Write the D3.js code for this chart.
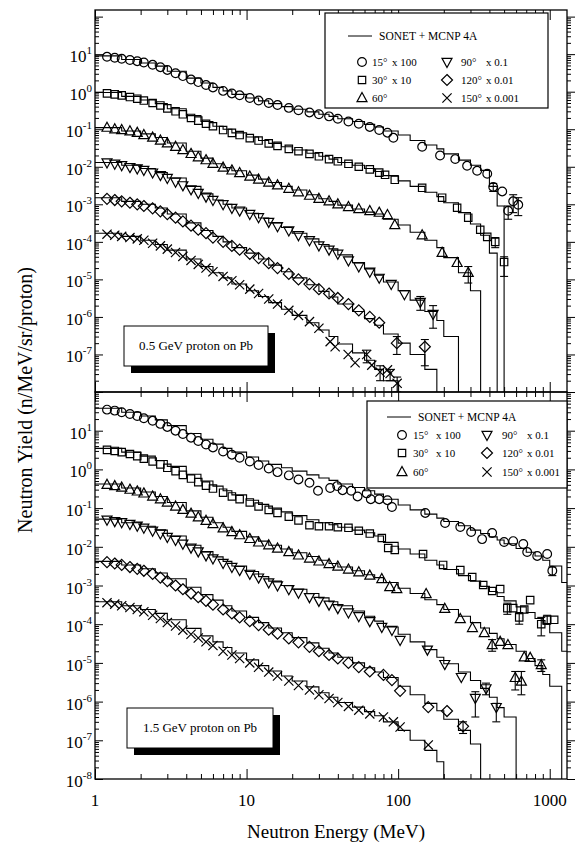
<!DOCTYPE html>
<meta charset="utf-8">
<style>
  body { margin: 0; background: #fff; }
  text { font-family: "Liberation Serif", "Times New Roman", serif; fill: #000; }
  .frame { fill: none; stroke: #000; stroke-width: 1.3px; }
  .calc { fill: none; stroke: #000; stroke-width: 1.1px; }
  .mark { fill: none; stroke: #000; stroke-width: 1.2px; }
  .err { stroke: #000; stroke-width: 1.1px; }
  .axis path { display: none; }
  .axis line { stroke: #000; }
</style>
<body>
<svg width="575" height="848"></svg>
<script src="https://d3js.org/d3.v7.min.js"></script>
<script>
// ---- data: 0.5 GeV proton on Pb (values already multiplied as in legend)
const p05_15 = [[1.2,8.5],[1.35,8],[1.5,7.5],[1.7,7],[1.9,6.5],[2.1,6],[2.4,5.2],[2.7,4.5],[3,3.8],[3.4,3.1],[3.8,2.6],[4.3,2.1],[4.8,1.8],[5.4,1.5],[6,1.3],[7,1.05],[8,0.9],[9,0.8],[10.5,0.68],[12,0.58],[14,0.5],[16,0.44],[19,0.37],[22,0.32],[26,0.28],[30,0.25],[35,0.22],[40,0.19],[47,0.16],[55,0.14],[65,0.115],[75,0.095],[85,0.081],[93,0.059],[144,0.034],[189,0.02],[238,0.016],[285,0.0106],[332,0.0078],[387,0.0065],[424,0.0029],[486,0.0022],[532,0.00067],[574,0.0012],[620,0.00097]];
const p05_30 = [[1.2,0.9],[1.35,0.85],[1.5,0.8],[1.7,0.72],[1.9,0.65],[2.1,0.58],[2.4,0.5],[2.7,0.43],[3,0.36],[3.4,0.3],[3.8,0.25],[4.3,0.2],[4.8,0.17],[5.4,0.14],[6,0.12],[7,0.095],[8,0.08],[9,0.07],[10.5,0.058],[12,0.05],[14,0.042],[16,0.036],[19,0.03],[22,0.026],[26,0.022],[30,0.019],[35,0.016],[40,0.014],[47,0.012],[55,0.01],[65,0.0085],[75,0.007],[82,0.0061],[95,0.0045],[144,0.00275],[195,0.0015],[245,0.00081],[290,0.00044],[348,0.00021],[387,0.000136],[437,0.0001],[500,0.000029]];
const p05_60 = [[1.2,0.11],[1.35,0.1],[1.5,0.095],[1.7,0.088],[1.9,0.08],[2.1,0.07],[2.4,0.06],[2.7,0.05],[3,0.042],[3.4,0.034],[3.8,0.028],[4.3,0.022],[4.8,0.018],[5.4,0.015],[6,0.012],[7,0.0095],[8,0.008],[9,0.0068],[10.5,0.0055],[12,0.0046],[14,0.0038],[16,0.0032],[19,0.0026],[22,0.0021],[26,0.0017],[30,0.0014],[35,0.0012],[40,0.001],[47,0.00085],[55,0.00075],[65,0.00066],[75,0.0006],[85,0.00052],[95,0.00028],[144,0.00015],[195,0.000051],[245,0.0000275],[290,0.000015]];
const p05_90 = [[1.2,0.013],[1.35,0.012],[1.5,0.011],[1.7,0.0098],[1.9,0.009],[2.1,0.0082],[2.4,0.007],[2.7,0.006],[3,0.005],[3.4,0.004],[3.8,0.0032],[4.3,0.0025],[4.8,0.002],[5.4,0.0016],[6,0.0013],[7,0.001],[8,0.0008],[9,0.00068],[10.5,0.00055],[12,0.00045],[14,0.00034],[16,0.00026],[19,0.0002],[22,0.00015],[26,0.00011],[30,0.00008],[35,0.000062],[40,0.000048],[47,0.000032],[55,0.000022],[65,0.000016],[75,0.000011],[90,0.0000075],[110,0.000004],[140,0.0000025],[170,0.0000012]];
const p05_120 = [[1.2,0.0014],[1.35,0.0013],[1.5,0.0012],[1.7,0.0011],[1.9,0.001],[2.1,0.0009],[2.4,0.00078],[2.7,0.00065],[3,0.00055],[3.4,0.00044],[3.8,0.00035],[4.3,0.00027],[4.8,0.00021],[5.4,0.00017],[6,0.00013],[7,0.0001],[8,0.000078],[9,0.000062],[10.5,0.000048],[12,0.000037],[14,0.000027],[16,0.00002],[19,0.000014],[22,0.00001],[26,0.0000075],[30,0.0000055],[35,0.0000042],[40,0.0000032],[47,0.0000022],[55,0.0000015],[65,0.000001],[75,0.0000007],[98,0.0000002],[150,0.00000016]];
const p05_150 = [[1.2,0.00016],[1.35,0.00015],[1.5,0.00014],[1.7,0.00013],[1.9,0.00012],[2.1,0.00011],[2.4,0.000092],[2.7,0.000078],[3,0.000064],[3.4,0.000052],[3.8,0.000041],[4.3,0.000032],[4.8,0.000025],[5.4,0.00002],[6,0.000016],[7,0.000012],[8,0.0000092],[9,0.0000072],[10.5,0.0000055],[12,0.0000042],[14,0.000003],[16,0.0000022],[19,0.0000015],[22,0.0000011],[26,0.00000075],[30,0.0000005],[35.6,0.00000022],[38.4,0.00000016],[46.8,0.0000001],[52,0.00000006],[62,0.0000001],[67,0.000000052],[76,0.000000034],[85,0.000000039],[88.5,0.000000031],[98.5,0.000000017]];

// error bars [E, low, high]
const e05_15 = [[424,0.0022,0.0036],[532,0.0004,0.0009],[574,0.0006,0.0018],[620,0.0005,0.0015]];
const e05_30 = [[437,0.00007,0.00013],[500,0.000012,0.00004]];
const e05_60 = [[290,0.000008,0.000022]];
const e05_90 = [[140,0.0000015,0.0000035],[170,0.0000005,0.000002]];
const e05_120 = [[98,0.0000001,0.0000003],[150,0.00000005,0.00000025]];
const e05_150 = [[62,0.00000006,0.00000013],[76,0.00000002,0.00000005],[88.5,0.00000002,0.00000004],[98.5,0.00000001,0.000000025]];

// SONET + MCNP 4A histograms: bin edges and value per bin
const edges05 = [1,1.5,2,2.5,3,4,5,6,7,8,10,12,14,17,20,25,30,35,40,50,60,70,80,100,120,150,180,200,250,300,350,400,450,500];
const c05_15 = [9,7.2,5.8,4.8,3.5,2.3,1.7,1.3,1.05,0.85,0.68,0.57,0.48,0.4,0.34,0.29,0.25,0.22,0.19,0.16,0.135,0.115,0.09,0.07,0.05,0.038,0.03,0.022,0.015,0.011,0.008,0.003,0.0009];
const c05_30 = [0.95,0.75,0.6,0.48,0.35,0.23,0.16,0.12,0.1,0.08,0.062,0.05,0.042,0.034,0.028,0.023,0.019,0.016,0.013,0.011,0.009,0.0075,0.0058,0.0042,0.003,0.0021,0.0016,0.0011,0.0006,0.0003,0.00015,0.00005];
const c05_60 = [0.11,0.09,0.075,0.06,0.043,0.026,0.017,0.012,0.0095,0.0078,0.006,0.0047,0.0038,0.003,0.0024,0.0018,0.0014,0.0012,0.00095,0.00075,0.00062,0.00055,0.0004,0.00028,0.00018,0.00011,0.00007,0.000038,0.000015,0.000005];
const c05_90 = [0.013,0.011,0.009,0.007,0.005,0.003,0.0019,0.0013,0.001,0.0008,0.00058,0.00043,0.00032,0.00024,0.00017,0.00012,0.000085,0.000065,0.000045,0.000028,0.000019,0.000013,0.0000085,0.000005,0.0000028,0.0000014,0.0000008,0.0000003];
const c05_120 = [0.0015,0.0012,0.001,0.0008,0.00055,0.00032,0.0002,0.00014,0.0001,0.00007,0.00005,0.000035,0.000024,0.000016,0.000011,0.0000072,0.0000048,0.0000034,0.0000022,0.0000014,0.0000009,0.0000006,0.00000035,0.0000002,0.0000001,0.00000004];
const c05_150 = [0.00017,0.00014,0.00011,0.000085,0.00006,0.000035,0.000022,0.000015,0.000011,0.0000075,0.000005,0.0000035,0.0000024,0.0000016,0.0000011,0.0000007,0.00000045,0.0000003,0.00000019,0.00000011,0.00000007,0.00000004,0.00000002];

// ---- data: 1.5 GeV proton on Pb
const p15_15 = [[1.2,35],[1.35,33],[1.5,30],[1.7,27],[1.9,24],[2.1,21],[2.4,18],[2.7,15],[3,12.5],[3.4,10],[3.8,8.2],[4.3,6.6],[4.8,5.4],[5.4,4.4],[6,3.7],[7,2.9],[8,2.4],[9,2],[10.5,1.6],[12,1.3],[14,1.05],[16,0.85],[19,0.7],[22,0.55],[26,0.45],[29.6,0.28],[35.6,0.33],[39.6,0.37],[43,0.29],[49,0.28],[54,0.2],[62,0.24],[66,0.17],[75,0.17],[85,0.16],[91,0.107],[151,0.075],[204,0.041],[257,0.0325],[303,0.024],[358,0.0158],[417,0.0227],[500,0.0133],[574,0.014],[669,0.0118],[710,0.0073],[827,0.0058],[962,0.0065],[1040,0.0024]];
const p15_30 = [[1.2,3.2],[1.35,3],[1.5,2.8],[1.7,2.5],[1.9,2.2],[2.1,1.9],[2.4,1.6],[2.7,1.35],[3,1.1],[3.4,0.9],[3.8,0.72],[4.3,0.58],[4.8,0.47],[5.4,0.38],[6,0.32],[7,0.25],[8,0.2],[9,0.17],[10.5,0.14],[12,0.11],[14,0.09],[16,0.075],[19,0.06],[22,0.048],[26,0.036],[30,0.034],[35,0.034],[40,0.032],[47,0.031],[55,0.026],[65,0.022],[78,0.0169],[86,0.0093],[95,0.0083],[146,0.0065],[198,0.0034],[257,0.0025],[308,0.00166],[364,0.00103],[417,0.00072],[471,0.00081],[525,0.00026],[574,0.00026],[629,0.00015],[679,0.00024],[743,0.00042],[879,0.0001],[962,0.00013],[1070,0.00013]];
const p15_60 = [[1.2,0.4],[1.35,0.37],[1.5,0.34],[1.7,0.3],[1.9,0.27],[2.1,0.24],[2.4,0.2],[2.7,0.17],[3,0.14],[3.4,0.11],[3.8,0.09],[4.3,0.072],[4.8,0.058],[5.4,0.047],[6,0.039],[7,0.03],[8,0.024],[9,0.02],[10.5,0.016],[12,0.013],[14,0.011],[16,0.009],[19,0.0073],[22,0.006],[26,0.005],[30,0.0042],[35,0.0036],[40,0.0031],[47,0.0026],[55,0.0022],[65,0.0018],[78,0.00147],[88,0.00091],[98,0.00081],[153,0.0006],[203,0.00025],[257,0.000136],[309,0.00008],[370,0.000059],[417,0.000029],[471,0.000035],[530,0.000029],[592,0.0000041],[650,0.0000033],[679,0.000014],[743,0.0000135],[879,0.0000088]];
const p15_90 = [[1.2,0.05],[1.35,0.046],[1.5,0.043],[1.7,0.039],[1.9,0.035],[2.1,0.031],[2.4,0.026],[2.7,0.022],[3,0.018],[3.4,0.015],[3.8,0.012],[4.3,0.0095],[4.8,0.0076],[5.4,0.006],[6,0.005],[7,0.0038],[8,0.003],[9,0.0025],[10.5,0.002],[12,0.0016],[14,0.0012],[16,0.001],[19,0.0008],[22,0.00065],[26,0.0005],[30,0.0004],[35,0.00032],[40,0.00026],[47,0.0002],[55,0.00016],[65,0.00012],[78,0.000085],[91,0.000071],[103,0.000039],[156,0.000022],[203,0.0000093],[261,0.0000043],[323,0.00000124],[380,0.0000022],[444,0.00000072]];
const p15_120 = [[1.2,0.004],[1.35,0.0037],[1.5,0.0034],[1.7,0.003],[1.9,0.0027],[2.1,0.0024],[2.4,0.002],[2.7,0.0016],[3,0.0013],[3.4,0.001],[3.8,0.0008],[4.3,0.00062],[4.8,0.0005],[5.4,0.0004],[6,0.00032],[7,0.00024],[8,0.00019],[9,0.00015],[10.5,0.00012],[12,0.000095],[14,0.000072],[16,0.000057],[19,0.000043],[22,0.000034],[26,0.000026],[30,0.00002],[35,0.000016],[40,0.000013],[47,0.00001],[55,0.0000078],[65,0.000006],[80,0.0000049],[91,0.0000036],[103,0.0000019],[158,0.00000072],[210,0.00000057],[268,0.00000023]];
const p15_150 = [[1.2,0.00036],[1.35,0.00033],[1.5,0.0003],[1.7,0.00027],[1.9,0.00024],[2.1,0.00021],[2.4,0.00017],[2.7,0.00014],[3,0.00011],[3.4,0.00009],[3.8,0.00007],[4.3,0.000055],[4.8,0.000044],[5.4,0.000035],[6,0.000028],[7,0.00002],[8,0.000016],[9,0.000013],[10.5,0.00001],[12,0.0000077],[14,0.0000058],[16,0.0000046],[19,0.0000034],[22,0.0000026],[26,0.000002],[30,0.0000015],[35,0.0000012],[40,0.00000095],[47,0.00000075],[55,0.0000006],[65,0.00000048],[80,0.0000004],[93,0.0000003],[103,0.00000022],[158,0.000000076]];

const e15_15 = [[1040,0.0018,0.003]];
const e15_30 = [[525,0.00018,0.00035],[629,0.0001,0.0002],[879,0.00005,0.00015],[962,0.0001,0.00017]];
const e15_60 = [[417,0.00002,0.00004],[592,0.000002,0.000006],[650,0.0000015,0.000006],[879,0.000006,0.000012]];
const e15_90 = [[323,0.0000004,0.0000018],[380,0.0000015,0.000003],[444,0.0000003,0.0000009]];
const e15_120 = [[268,0.00000015,0.0000003]];
const e15_150 = [];

const edges15 = [1,1.5,2,2.5,3,4,5,6,7,8,10,12,14,17,20,25,30,35,40,50,60,70,80,100,120,150,180,200,250,300,350,400,450,500,600,700,800,900,1000,1200,1400];
const c15_15 = [38,30,24,19,13.5,8.5,6,4.5,3.5,2.8,2.1,1.65,1.35,1.1,0.9,0.72,0.6,0.52,0.42,0.34,0.28,0.23,0.17,0.12,0.09,0.07,0.055,0.045,0.035,0.027,0.022,0.018,0.015,0.012,0.009,0.0072,0.0058,0.0045,0.0032,0.0012];
const c15_30 = [3.5,2.8,2.2,1.7,1.2,0.75,0.5,0.37,0.28,0.22,0.16,0.125,0.1,0.08,0.064,0.05,0.042,0.037,0.032,0.027,0.023,0.019,0.013,0.0088,0.0065,0.0045,0.0034,0.0026,0.0018,0.0013,0.00095,0.0007,0.00052,0.0004,0.00028,0.0002,0.00014,0.0001,0.00006,0.00002];
const c15_60 = [0.42,0.33,0.26,0.2,0.14,0.085,0.058,0.042,0.032,0.025,0.018,0.014,0.011,0.0088,0.007,0.0056,0.0045,0.0037,0.003,0.0024,0.0019,0.0016,0.0012,0.00085,0.00062,0.00043,0.00032,0.00024,0.00016,0.00011,0.00008,0.000058,0.000042,0.00003,0.00002,0.000013,0.0000085,0.000005,0.0000025];
const c15_90 = [0.052,0.042,0.034,0.027,0.019,0.011,0.0075,0.0055,0.0042,0.0032,0.0023,0.0017,0.0013,0.001,0.0008,0.00062,0.00048,0.00038,0.0003,0.00022,0.00016,0.00012,0.000085,0.000055,0.000035,0.000022,0.000014,0.0000095,0.0000058,0.0000035,0.0000022,0.0000013,0.0000007,0.0000004];
const c15_120 = [0.0042,0.0034,0.0027,0.0021,0.0015,0.0009,0.00058,0.00042,0.0003,0.00022,0.00015,0.00011,0.00008,0.00006,0.000045,0.000033,0.000024,0.000018,0.000014,0.00001,0.0000075,0.0000058,0.0000042,0.0000025,0.0000015,0.0000009,0.00000058,0.00000035,0.00000018,0.00000008];
const c15_150 = [0.00038,0.0003,0.00024,0.00019,0.00013,0.000078,0.00005,0.000035,0.000025,0.000018,0.000012,0.0000085,0.0000062,0.0000046,0.0000034,0.0000024,0.0000017,0.0000013,0.00000095,0.00000072,0.00000055,0.00000043,0.0000003,0.00000018,0.0000001,0.000000055,0.000000028];

const xMajor = [1, 10, 100, 1000];
const legendItems = [
  { sym: 'circle', angle: '15°', mult: 'x 100' },
  { sym: 'square', angle: '30°', mult: 'x 10' },
  { sym: 'up', angle: '60°', mult: '' },
  { sym: 'down', angle: '90°', mult: 'x 0.1' },
  { sym: 'diamond', angle: '120°', mult: 'x 0.01' },
  { sym: 'cross', angle: '150°', mult: 'x 0.001' },
];

// ---- layout
const svg = d3.select('svg');
const xLeft = 95, xRight = 567;
const x = d3.scaleLog().domain([1, 1300]).range([xLeft, xRight]);

const panels = [
  {
    top: 10, bottom: 392, ymax: 150, exps: [1,0,-1,-2,-3,-4,-5,-6,-7],
    series: [
      { sym: 'circle', pts: p05_15, err: e05_15, calc: c05_15 },
      { sym: 'square', pts: p05_30, err: e05_30, calc: c05_30 },
      { sym: 'up', pts: p05_60, err: e05_60, calc: c05_60 },
      { sym: 'down', pts: p05_90, err: e05_90, calc: c05_90 },
      { sym: 'diamond', pts: p05_120, err: e05_120, calc: c05_120 },
      { sym: 'cross', pts: p05_150, err: e05_150, calc: c05_150 },
    ],
    edges: edges05,
    legend: { x0: 325, y0: 13, x1: 548, y1: 108, lineY: 36, lineX: 348, rows: [62, 80, 98], c1: 362, c2: 447, t1: 372, t2: 461, m1: 392, m2: 486 },
    label: { text: '0.5 GeV proton on Pb', x0: 124, y0: 326, x1: 268, y1: 366 }
  },
  {
    top: 392, bottom: 779, ymax: 100, exps: [1,0,-1,-2,-3,-4,-5,-6,-7,-8],
    series: [
      { sym: 'circle', pts: p15_15, err: e15_15, calc: c15_15 },
      { sym: 'square', pts: p15_30, err: e15_30, calc: c15_30 },
      { sym: 'up', pts: p15_60, err: e15_60, calc: c15_60 },
      { sym: 'down', pts: p15_90, err: e15_90, calc: c15_90 },
      { sym: 'diamond', pts: p15_120, err: e15_120, calc: c15_120 },
      { sym: 'cross', pts: p15_150, err: e15_150, calc: c15_150 },
    ],
    edges: edges15,
    legend: { x0: 367, y0: 401, x1: 567, y1: 488, lineY: 417, lineX: 387, rows: [435, 453, 472], c1: 402, c2: 487, t1: 413, t2: 502, m1: 436, m2: 527 },
    label: { text: '1.5 GeV proton on Pb', x0: 127, y0: 708, x1: 273, y1: 748 }
  }
];

function symPath(kind) {
  switch (kind) {
    case 'circle': return d3.symbol(d3.symbolCircle, 60)();
    case 'square': return 'M-3.7,-3.7H3.7V3.7H-3.7Z';
    case 'up': return 'M0,-5.5L5,3.6H-5Z';
    case 'down': return 'M0,5.5L5,-3.6H-5Z';
    case 'diamond': return 'M0,-5.5L5.5,0L0,5.5L-5.5,0Z';
    case 'cross': return 'M-4.6,-4.6L4.6,4.6M-4.6,4.6L4.6,-4.6';
  }
}

function minorTicks(lo, hi) {
  const out = [];
  for (let e = Math.floor(Math.log10(lo)); e <= Math.ceil(Math.log10(hi)); e++) {
    for (let m = 2; m <= 9; m++) {
      const v = m * Math.pow(10, e);
      if (v > lo && v < hi) out.push(v);
    }
  }
  return out;
}

const defs = svg.append('defs');

panels.forEach((p, i) => {
  const y = d3.scaleLog().domain([1e-8, p.ymax]).range([p.bottom, p.top]).clamp(true);
  const g = svg.append('g');

  defs.append('clipPath').attr('id', 'clip' + i)
    .append('rect').attr('x', xLeft).attr('y', p.top)
    .attr('width', xRight - xLeft).attr('height', p.bottom - p.top);

  // ticks
  const yMinor = minorTicks(1e-8, p.ymax);
  const yMajorVals = d3.range(-8, 3).map(e => Math.pow(10, e)).filter(v => v <= p.ymax);
  const xMinor = minorTicks(1, 1300);

  g.append('g').attr('class', 'axis').attr('transform', `translate(${xLeft},0)`)
    .call(d3.axisLeft(y).tickValues(yMinor).tickSize(-4).tickFormat(''));
  g.append('g').attr('class', 'axis').attr('transform', `translate(${xLeft},0)`)
    .call(d3.axisLeft(y).tickValues(yMajorVals).tickSize(-8).tickFormat(''));
  g.append('g').attr('class', 'axis').attr('transform', `translate(${xRight},0)`)
    .call(d3.axisRight(y).tickValues(yMinor).tickSize(4).tickFormat(''));
  g.append('g').attr('class', 'axis').attr('transform', `translate(${xRight},0)`)
    .call(d3.axisRight(y).tickValues(yMajorVals).tickSize(8).tickFormat(''));

  g.append('g').attr('class', 'axis').attr('transform', `translate(0,${p.bottom})`)
    .call(d3.axisBottom(x).tickValues(xMinor).tickSize(-5).tickFormat(''));
  g.append('g').attr('class', 'axis').attr('transform', `translate(0,${p.bottom})`)
    .call(d3.axisBottom(x).tickValues(xMajor).tickSize(-10).tickFormat(''));
  g.append('g').attr('class', 'axis').attr('transform', `translate(0,${p.top})`)
    .call(d3.axisTop(x).tickValues(xMinor).tickSize(-5).tickFormat(''));
  g.append('g').attr('class', 'axis').attr('transform', `translate(0,${p.top})`)
    .call(d3.axisTop(x).tickValues(xMajor).tickSize(-10).tickFormat(''));

  g.append('rect').attr('class', 'frame')
    .attr('x', xLeft).attr('y', p.top)
    .attr('width', xRight - xLeft).attr('height', p.bottom - p.top);

  // y tick labels 10^n
  const lab = g.selectAll('text.ylab').data(p.exps).join('text')
    .attr('class', 'ylab')
    .attr('x', xLeft - 3)
    .attr('y', d => y(Math.pow(10, d)) + 8)
    .attr('text-anchor', 'end')
    .style('font-size', '17px');
  lab.append('tspan').text('10');
  lab.append('tspan').attr('dy', -8).style('font-size', '11px').text(d => String(d));

  const plot = g.append('g').attr('clip-path', `url(#clip${i})`);

  // calculated histograms
  const line = d3.line().x(d => x(d[0])).y(d => y(d[1])).curve(d3.curveStepAfter);
  p.series.forEach(s => {
    const pts = s.calc.map((v, k) => [p.edges[k], v]);
    const end = p.edges[s.calc.length];
    pts.push([end, s.calc[s.calc.length - 1]]);
    pts.push([end, 1e-12]);
    plot.append('path').attr('class', 'calc').attr('d', line(pts));
  });

  // error bars
  p.series.forEach(s => {
    const eg = plot.append('g');
    s.err.forEach(d => {
      const ex = x(d[0]);
      eg.append('line').attr('class', 'err').attr('x1', ex).attr('x2', ex).attr('y1', y(d[1])).attr('y2', y(d[2]));
      eg.append('line').attr('class', 'err').attr('x1', ex - 4).attr('x2', ex + 4).attr('y1', y(d[1])).attr('y2', y(d[1]));
      eg.append('line').attr('class', 'err').attr('x1', ex - 4).attr('x2', ex + 4).attr('y1', y(d[2])).attr('y2', y(d[2]));
    });
  });

  // measured points
  p.series.forEach(s => {
    plot.append('g').selectAll('path').data(s.pts).join('path')
      .attr('class', 'mark')
      .attr('transform', d => `translate(${x(d[0])},${y(d[1])})`)
      .attr('d', symPath(s.sym));
  });

  // legend
  const L = p.legend;
  const lg = g.append('g');
  lg.append('rect').attr('x', L.x0).attr('y', L.y0).attr('width', L.x1 - L.x0).attr('height', L.y1 - L.y0)
    .attr('fill', '#fff').attr('stroke', '#000').attr('stroke-width', 1.2);
  lg.append('line').attr('x1', L.lineX).attr('x2', L.lineX + 24).attr('y1', L.lineY).attr('y2', L.lineY).attr('stroke', '#000');
  lg.append('text').attr('x', L.lineX + 31).attr('y', L.lineY + 4).style('font-size', '11.5px').text('SONET + MCNP 4A');
  legendItems.forEach((it, k) => {
    const col = k < 3 ? 0 : 1;
    const ry = L.rows[k % 3];
    const cx = col ? L.c2 : L.c1;
    lg.append('path').attr('class', 'mark').attr('stroke-width', 1.4)
      .attr('transform', `translate(${cx},${ry})`).attr('d', symPath(it.sym));
    lg.append('text').attr('x', col ? L.t2 : L.t1).attr('y', ry + 4).style('font-size', '11px').text(it.angle);
    lg.append('text').attr('x', col ? L.m2 : L.m1).attr('y', ry + 4).style('font-size', '11px').text(it.mult);
  });

  // label box with shadow
  const B = p.label;
  g.append('rect').attr('x', B.x0 + 7).attr('y', B.y0 + 7).attr('width', B.x1 - B.x0).attr('height', B.y1 - B.y0).attr('fill', '#000');
  g.append('rect').attr('x', B.x0).attr('y', B.y0).attr('width', B.x1 - B.x0).attr('height', B.y1 - B.y0)
    .attr('fill', '#fff').attr('stroke', '#000').attr('stroke-width', 1);
  g.append('text').attr('x', (B.x0 + B.x1) / 2).attr('y', (B.y0 + B.y1) / 2 + 4)
    .attr('text-anchor', 'middle').style('font-size', '13px').text(B.text);
});

// x tick labels
svg.append('g').selectAll('text').data(xMajor).join('text')
  .attr('x', d => x(d)).attr('y', 806).attr('text-anchor', 'middle')
  .style('font-size', '17px').text(d => d);

svg.append('text').attr('x', 336).attr('y', 838).attr('text-anchor', 'middle')
  .style('font-size', '19px').text('Neutron Energy (MeV)');

svg.append('text').attr('transform', 'translate(32,400) rotate(-90)')
  .attr('text-anchor', 'middle').style('font-size', '20px')
  .text('Neutron Yield (n/MeV/sr/proton)');
</script>
</body>
